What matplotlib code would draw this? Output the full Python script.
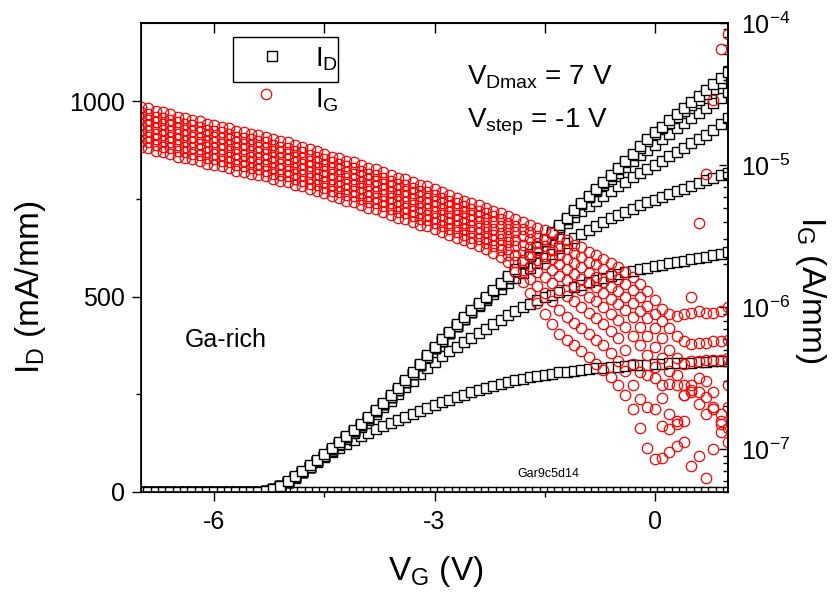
import numpy as np
import matplotlib
matplotlib.use("Agg")
import matplotlib.pyplot as plt
from matplotlib.ticker import MultipleLocator, LogLocator, NullFormatter
from matplotlib.patches import Rectangle
from matplotlib.lines import Line2D

plt.rcParams['font.family'] = ['Liberation Sans', 'DejaVu Sans']
plt.rcParams['mathtext.fontset'] = 'custom'
plt.rcParams['mathtext.rm'] = 'Liberation Sans'
plt.rcParams['mathtext.it'] = 'Liberation Sans'
plt.rcParams['mathtext.bf'] = 'Liberation Sans:bold'
plt.rcParams['mathtext.default'] = 'regular'
plt.rcParams['axes.unicode_minus'] = False

# gate voltage sweep, -7 V .. 1 V in 0.1 V steps
vg = np.round(np.linspace(-7, 1, 81), 2)

# drain current (mA/mm) for V_D = 7 V down to 0 V
id_7v = [0, 0, 0, 0, 0, 0, 0, 0, 0, 0, 0, 0, 0, 0, 0, 0, 0,
         2, 8, 16, 27, 40, 54, 68, 83, 97, 113, 128, 144, 159, 175,
         192, 210, 228, 247, 266, 286, 307, 328, 350, 372,
         391, 410, 429, 447, 465, 483, 500, 518, 535, 552,
         570, 589, 608, 627, 646, 664, 683, 702, 721, 740,
         758, 776, 794, 812, 830, 848, 866, 884, 902, 920,
         935, 951, 966, 982, 997, 1013, 1028, 1044, 1059, 1075]
id_6v = [0, 0, 0, 0, 0, 0, 0, 0, 0, 0, 0, 0, 0, 0, 0, 0, 0,
         2, 8, 15, 26, 38, 52, 65, 80, 93, 109, 124, 140, 155, 171,
         188, 206, 224, 243, 262, 282, 303, 324, 346, 368,
         387, 406, 425, 443, 461, 479, 496, 514, 531, 548,
         566, 585, 604, 623, 642, 660, 679, 698, 717, 736,
         754, 772, 790, 808, 826, 844, 862, 881, 899, 916,
         930, 945, 960, 975, 989, 1003, 1017, 1031, 1046, 1060]
id_5v = [0, 0, 0, 0, 0, 0, 0, 0, 0, 0, 0, 0, 0, 0, 0, 0, 0,
         2, 8, 15, 26, 38, 52, 65, 80, 93, 109, 124, 140, 155, 171,
         188, 206, 224, 243, 262, 282, 303, 324, 346, 368,
         387, 406, 425, 443, 461, 479, 496, 514, 531, 548,
         566, 585, 604, 623, 642, 660, 679, 698, 717, 736,
         754, 770, 786, 802, 817, 832, 847, 861, 875, 889,
         903, 917, 930, 943, 956, 969, 982, 996, 1009, 1023]
id_4v = [0, 0, 0, 0, 0, 0, 0, 0, 0, 0, 0, 0, 0, 0, 0, 0, 0,
         2, 8, 15, 26, 38, 52, 65, 80, 93, 109, 124, 140, 155, 171,
         188, 206, 224, 243, 262, 282, 303, 324, 346, 368,
         387, 406, 425, 443, 461, 479, 496, 514, 531, 548,
         566, 585, 604, 623, 642, 658, 674, 689, 704, 718,
         732, 745, 758, 770, 782, 794, 805, 816, 827, 837,
         848, 859, 870, 881, 892, 903, 914, 926, 941, 957]
id_3v = [0, 0, 0, 0, 0, 0, 0, 0, 0, 0, 0, 0, 0, 0, 0, 0, 0,
         2, 8, 15, 26, 38, 52, 65, 80, 93, 109, 124, 140, 155, 171,
         188, 206, 224, 243, 262, 282, 303, 324, 346, 368,
         387, 406, 425, 443, 460, 476, 491, 506, 520, 534,
         547, 560, 573, 585, 598, 610, 625, 637, 649, 660,
         671, 681, 691, 700, 709, 717, 725, 733, 741, 748,
         755, 762, 769, 776, 783, 790, 797, 804, 810, 816]
id_2v = [0, 0, 0, 0, 0, 0, 0, 0, 0, 0, 0, 0, 0, 0, 0, 0, 0,
         2, 8, 15, 26, 38, 52, 65, 79, 92, 106, 121, 136, 151, 166,
         183, 200, 217, 234, 251, 268, 285, 302, 318, 333,
         347, 360, 372, 384, 395, 406, 418, 430, 441, 452,
         462, 472, 482, 490, 498, 505, 512, 518, 524, 530,
         536, 542, 547, 552, 557, 562, 566, 570, 574, 578,
         582, 585, 589, 592, 596, 599, 602, 606, 610, 614]
id_1v = [0, 0, 0, 0, 0, 0, 0, 0, 0, 0, 0, 0, 0, 0, 0, 0, 0,
         2, 8, 15, 25, 37, 50, 63, 77, 89, 101, 113, 123, 133, 142,
         151, 160, 168, 176, 184, 192, 200, 207, 214, 222,
         229, 236, 243, 249, 255, 261, 266, 271, 276, 281,
         286, 290, 294, 297, 300, 303, 306, 308, 310, 312,
         314, 316, 318, 319, 321, 322, 324, 325, 326, 327,
         328, 329, 330, 331, 331, 332, 333, 334, 334, 335]
id_0v = [0, 0, 0, 0, 0, 0, 0, 0, 0, 0, 0, 0, 0, 0, 0, 0, 0, 0, 0, 0,
         0, 0, 0, 0, 0, 0, 0, 0, 0, 0, 0, 0, 0, 0, 0, 0, 0, 0, 0, 0,
         0, 0, 0, 0, 0, 0, 0, 0, 0, 0, 0, 0, 0, 0, 0, 0, 0, 0, 0, 0,
         0, 0, 0, 0, 0, 0, 0, 0, 0, 0, 0, 0, 0, 0, 0, 0, 0, 0, 0, 0, 0]

# |gate current|, log10 of A/mm, for V_D = 7 V down to 0 V
ig_log_7v = [-4.59, -4.60, -4.62, -4.63, -4.64, -4.66, -4.67, -4.68, -4.69, -4.71, -4.72,
             -4.73, -4.74, -4.76, -4.77, -4.78, -4.79, -4.80, -4.82, -4.83, -4.84,
             -4.86, -4.87, -4.89, -4.90, -4.92, -4.94, -4.95, -4.97, -4.98, -5.00,
             -5.02, -5.03, -5.05, -5.07, -5.09, -5.10, -5.12, -5.14, -5.15, -5.17,
             -5.19, -5.21, -5.23, -5.25, -5.27, -5.28, -5.30, -5.32, -5.34, -5.36,
             -5.38, -5.40, -5.42, -5.44, -5.46, -5.48, -5.51, -5.53, -5.56, -5.58,
             -5.61, -5.63, -5.66, -5.69, -5.72, -5.75, -5.79, -5.84, -5.89, -5.95,
             -6.01, -6.05, -6.06, -6.05, -6.04, -6.03, -6.04, -6.04, -6.03, -6.00]
ig_log_6v = [-4.63, -4.64, -4.66, -4.67, -4.68, -4.70, -4.71, -4.72, -4.73, -4.75, -4.76,
             -4.77, -4.78, -4.80, -4.81, -4.82, -4.83, -4.84, -4.86, -4.87, -4.88,
             -4.90, -4.91, -4.93, -4.94, -4.96, -4.98, -4.99, -5.01, -5.02, -5.04,
             -5.06, -5.07, -5.09, -5.11, -5.13, -5.14, -5.16, -5.18, -5.19, -5.21,
             -5.23, -5.25, -5.27, -5.29, -5.31, -5.32, -5.34, -5.36, -5.38, -5.41,
             -5.43, -5.45, -5.47, -5.50, -5.52, -5.54, -5.57, -5.59, -5.62, -5.65,
             -5.68, -5.70, -5.73, -5.77, -5.80, -5.84, -5.88, -5.93, -5.99, -6.05,
             -6.10, -6.15, -6.20, -6.24, -6.26, -6.25, -6.25, -6.24, -6.24, -6.23]
ig_log_5v = [-4.67, -4.68, -4.70, -4.71, -4.72, -4.74, -4.75, -4.76, -4.77, -4.79, -4.80,
             -4.81, -4.82, -4.84, -4.85, -4.86, -4.87, -4.88, -4.90, -4.91, -4.92,
             -4.94, -4.95, -4.97, -4.98, -5.00, -5.02, -5.03, -5.05, -5.06, -5.08,
             -5.10, -5.11, -5.13, -5.15, -5.17, -5.18, -5.20, -5.22, -5.23, -5.25,
             -5.27, -5.29, -5.31, -5.33, -5.35, -5.36, -5.38, -5.40, -5.43, -5.45,
             -5.47, -5.50, -5.52, -5.55, -5.57, -5.60, -5.63, -5.66, -5.69, -5.72,
             -5.76, -5.79, -5.82, -5.86, -5.89, -5.93, -5.97, -6.03, -6.08, -6.15,
             -6.22, -6.30, -6.36, -6.40, -6.38, -6.38, -6.37, -6.37, -6.37, -6.36]
ig_log_4v = [-4.71, -4.72, -4.74, -4.75, -4.76, -4.78, -4.79, -4.80, -4.81, -4.83, -4.84,
             -4.85, -4.86, -4.88, -4.89, -4.90, -4.91, -4.92, -4.94, -4.95, -4.96,
             -4.98, -4.99, -5.01, -5.02, -5.04, -5.06, -5.07, -5.09, -5.10, -5.12,
             -5.14, -5.15, -5.17, -5.19, -5.21, -5.22, -5.24, -5.26, -5.27, -5.29,
             -5.31, -5.33, -5.35, -5.37, -5.39, -5.40, -5.43, -5.45, -5.48, -5.50,
             -5.53, -5.56, -5.58, -5.61, -5.64, -5.66, -5.70, -5.73, -5.77, -5.80,
             -5.83, -5.86, -5.90, -5.94, -5.98, -6.02, -6.07, -6.14, -6.20, -6.28,
             -6.36, -6.45, -6.55, -6.62, -6.58, -6.60, -6.63, -6.70, -6.75, -6.70]
ig_log_3v = [-4.75, -4.76, -4.78, -4.79, -4.80, -4.82, -4.83, -4.84, -4.85, -4.87, -4.88,
             -4.89, -4.90, -4.92, -4.93, -4.94, -4.95, -4.96, -4.98, -4.99, -5.00,
             -5.02, -5.03, -5.05, -5.06, -5.08, -5.10, -5.11, -5.13, -5.14, -5.16,
             -5.18, -5.19, -5.21, -5.23, -5.25, -5.26, -5.28, -5.30, -5.31, -5.33,
             -5.35, -5.37, -5.39, -5.41, -5.43, -5.44, -5.47, -5.49, -5.52, -5.54,
             -5.57, -5.61, -5.64, -5.67, -5.70, -5.74, -5.78, -5.81, -5.85, -5.88,
             -5.93, -5.96, -6.00, -6.05, -6.09, -6.14, -6.20, -6.27, -6.34, -6.42,
             -6.55, -6.75, -6.98, -6.80, -6.55, -6.50, -6.52, -6.60, -6.82, -6.55]
ig_log_2v = [-4.79, -4.80, -4.82, -4.83, -4.84, -4.86, -4.87, -4.88, -4.89, -4.91, -4.92,
             -4.93, -4.94, -4.96, -4.97, -4.98, -4.99, -5.00, -5.02, -5.03, -5.04,
             -5.06, -5.07, -5.09, -5.10, -5.12, -5.14, -5.15, -5.17, -5.18, -5.20,
             -5.22, -5.23, -5.25, -5.27, -5.29, -5.30, -5.32, -5.34, -5.35, -5.37,
             -5.39, -5.41, -5.43, -5.45, -5.47, -5.48, -5.51, -5.53, -5.56, -5.59,
             -5.63, -5.67, -5.71, -5.75, -5.79, -5.83, -5.88, -5.92, -5.96, -6.00,
             -6.04, -6.08, -6.12, -6.17, -6.22, -6.30, -6.40, -6.46, -6.48, -6.50,
             -6.64, -6.54, -6.48, -6.55, -6.60, -6.68, -6.75, -6.72, -6.80, -6.85]
ig_log_1v = [-4.83, -4.84, -4.86, -4.87, -4.88, -4.90, -4.91, -4.92, -4.93, -4.95, -4.96,
             -4.97, -4.98, -5.00, -5.01, -5.02, -5.03, -5.04, -5.06, -5.07, -5.08,
             -5.10, -5.11, -5.13, -5.14, -5.16, -5.18, -5.19, -5.21, -5.22, -5.24,
             -5.26, -5.27, -5.29, -5.31, -5.33, -5.34, -5.36, -5.38, -5.39, -5.41,
             -5.43, -5.45, -5.47, -5.49, -5.51, -5.52, -5.55, -5.57, -5.60, -5.63,
             -5.68, -5.74, -5.80, -5.85, -5.90, -5.96, -6.02, -6.07, -6.11, -6.15,
             -6.19, -6.23, -6.27, -6.32, -6.38, -6.45, -6.55, -6.65, -6.70, -6.72,
             -6.84, -6.86, -6.82, -6.95, -7.12, -7.05, -7.20, -7.00, -6.88, -6.95]
ig_log_0v = [-4.87, -4.88, -4.90, -4.91, -4.92, -4.94, -4.95, -4.96, -4.97, -4.99, -5.00,
             -5.01, -5.02, -5.04, -5.05, -5.06, -5.07, -5.08, -5.10, -5.11, -5.12,
             -5.14, -5.15, -5.17, -5.18, -5.20, -5.22, -5.23, -5.25, -5.26, -5.28,
             -5.30, -5.31, -5.33, -5.35, -5.37, -5.38, -5.40, -5.42, -5.43, -5.45,
             -5.47, -5.49, -5.51, -5.53, -5.55, -5.57, -5.59, -5.62, -5.65, -5.68,
             -5.75, -5.82, -5.90, -5.97, -6.05, -6.12, -6.19, -6.23, -6.27, -6.31,
             -6.35, -6.40, -6.44, -6.49, -6.55, -6.62, -6.72, -6.85, -6.99, -7.07,
             -7.06, -7.02, -6.80, -6.62, -5.93, -5.41, -5.06, -4.54, -4.18, -4.08]

id_curves = [id_0v, id_1v, id_2v, id_3v, id_4v, id_5v, id_6v, id_7v]
ig_curves = [ig_log_7v, ig_log_6v, ig_log_5v, ig_log_4v,
             ig_log_3v, ig_log_2v, ig_log_1v, ig_log_0v]

fig = plt.figure(figsize=(8.37, 5.98), dpi=100)
ax = fig.add_axes([0.1685, 0.1773, 0.7013, 0.7843])

for vals in id_curves:
    ax.plot(vg, vals, ls='none', marker='s', ms=7, mfc='white',
            mec='black', mew=1.0)

ax.set_xlim(-7, 1)
ax.set_ylim(0, 1200)
ax.set_xticks([-6, -3, 0])
ax.xaxis.set_minor_locator(MultipleLocator(1.5))
ax.set_yticks([0, 500, 1000])
ax.yaxis.set_minor_locator(MultipleLocator(250))
ax.tick_params(which='major', direction='out', length=6.5, width=1.0,
               labelsize=18, pad=5)
ax.tick_params(which='minor', direction='out', length=3.5, width=1.0)
ax.tick_params(axis='x', which='major', pad=6.5)
for sp in ax.spines.values():
    sp.set_linewidth(1.2)

# top axis: inward ticks only
top = ax.secondary_xaxis('top')
top.set_xticks([-6, -4.5, -3, -1.5, 0])
top.xaxis.set_major_formatter(NullFormatter())
top.tick_params(direction='in', length=7, width=1.0)
top.spines['top'].set_linewidth(1.2)

# right axis: gate current on log scale
ax2 = ax.twinx()
ax2.set_yscale('log')
for vals in ig_curves:
    ax2.plot(vg, 10 ** np.array(vals), ls='none', marker='o', ms=7.5,
             mfc='none', mec='red', mew=0.9)
ax2.set_ylim(5e-8, 1e-4)
ax2.yaxis.set_major_locator(LogLocator(base=10, numticks=10))
ax2.yaxis.set_minor_locator(LogLocator(base=10, subs=np.arange(2, 10), numticks=20))
ax2.tick_params(which='major', direction='in', length=6.5, width=1.0,
                labelsize=18, pad=9)
ax2.tick_params(which='minor', direction='in', length=3.5, width=1.0)
ax2.spines['right'].set_linewidth(1.2)

# axis labels
fig.text(0.52, 0.030, r'$V_G$ (V)', fontsize=24, ha='center', va='baseline')
fig.text(0.036, 0.52, r'$I_D$ (mA/mm)', fontsize=24, rotation=90,
         ha='center', va='center')
fig.text(0.968, 0.515, r'$I_G$ (A/mm)', fontsize=24, rotation=-90,
         ha='center', va='center')

# annotations
fig.text(0.558, 0.858, r'$V_{Dmax}$ = 7 V', fontsize=20, va='baseline')
fig.text(0.558, 0.786, r'$V_{step}$ = -1 V', fontsize=20, va='baseline')
fig.text(0.221, 0.420, 'Ga-rich', fontsize=18, va='baseline')
fig.text(0.655, 0.202, 'Gar9c5d14', fontsize=9, ha='center', va='baseline')

# legend (frame only around the first entry, as in the original)
fig.add_artist(Rectangle((0.278, 0.863), 0.1254, 0.0753, transform=fig.transFigure,
                         fill=False, ec='black', lw=1.0))
fig.add_artist(Line2D([0.325], [0.906], transform=fig.transFigure, ls='none',
                      marker='s', ms=7.5, mfc='white', mec='black', mew=1.0))
fig.add_artist(Line2D([0.318], [0.843], transform=fig.transFigure, ls='none',
                      marker='o', ms=7.5, mfc='none', mec='red', mew=0.9))
fig.text(0.376, 0.888, r'$I_D$', fontsize=20, va='baseline')
fig.text(0.376, 0.821, r'$I_G$', fontsize=20, va='baseline')

fig.savefig('out.png', dpi=100)
